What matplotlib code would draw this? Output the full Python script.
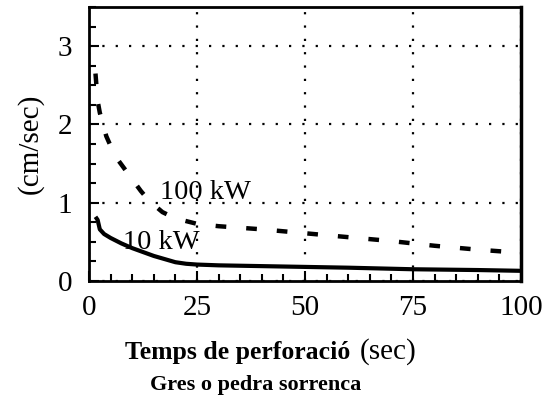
import matplotlib
matplotlib.use("Agg")
import matplotlib.pyplot as plt
from matplotlib.ticker import MultipleLocator

# values
t_100 = [1.5, 2, 2.5, 4, 6, 8, 10, 12, 14, 17, 20, 25, 30, 35, 40, 50, 60, 70, 80, 90, 100]
v_100 = [2.65, 2.3, 2.15, 1.85, 1.6, 1.45, 1.3, 1.15, 1.02, 0.88, 0.8, 0.73, 0.70, 0.68,
         0.66, 0.61, 0.56, 0.51, 0.45, 0.40, 0.36]

t_10 = [1.5, 2, 2.5, 3.5, 5, 7.5, 10, 12.5, 15, 17.5, 20, 22.5, 25, 30, 40, 50, 60, 75, 90, 100]
v_10 = [0.82, 0.78, 0.66, 0.6, 0.55, 0.48, 0.42, 0.37, 0.32, 0.28, 0.24, 0.22, 0.21, 0.2,
        0.19, 0.18, 0.17, 0.15, 0.14, 0.13]

x_ticks = [0, 25, 50, 75, 100]
y_ticks = [0, 1, 2, 3]

plt.rcParams["font.family"] = ["Liberation Serif", "DejaVu Serif"]

fig = plt.figure(figsize=(5.48, 4.03), dpi=100)
ax = fig.add_axes([89 / 548, 1 - 281 / 403, 432 / 548, 274 / 403])

ax.plot(t_100, v_100, color="black", lw=3.2, linestyle=(0, (2.4, 4.5)))
ax.plot(t_10, v_10, color="black", lw=3.0, solid_capstyle="butt")

ax.text(16.4, 1.13, "100 kW", fontsize=20.5, va="center", ha="left")
ax.text(7.9, 0.49, "10 kW", fontsize=20.5, va="center", ha="left")

ax.set_xlim(0, 100)
ax.set_ylim(0, 3.5)
ax.set_xticks(x_ticks)
ax.set_yticks(y_ticks)
ax.xaxis.set_minor_locator(MultipleLocator(5))
ax.yaxis.set_minor_locator(MultipleLocator(0.25))
ax.tick_params(which="both", direction="in", top=False, right=False, width=1.5)
ax.tick_params(which="major", length=7, labelsize=21)
ax.tick_params(which="minor", length=5)
ax.tick_params(axis="x", pad=10)
ax.tick_params(axis="y", pad=12)

ax.grid(True, which="major", color="black", linestyle=(0, (1, 5)), lw=1.6)
for s in ax.spines.values():
    s.set_linewidth(2)
ax.spines["right"].set_linewidth(2.5)

ax.set_ylabel("(cm/sec)", fontsize=21, labelpad=10)

fig.text(125 / 548, 1 - 352 / 403, "Temps de perforació", fontsize=18.5,
         fontweight="bold", ha="left", va="center")
fig.text(360 / 548, 1 - 352 / 403, "(sec)", fontsize=21, ha="left", va="center")
fig.text(256 / 548, 1 - 385 / 403, "Gres o pedra sorrenca", fontsize=16,
         fontweight="bold", ha="center", va="center")

fig.savefig("out.png", dpi=100)
